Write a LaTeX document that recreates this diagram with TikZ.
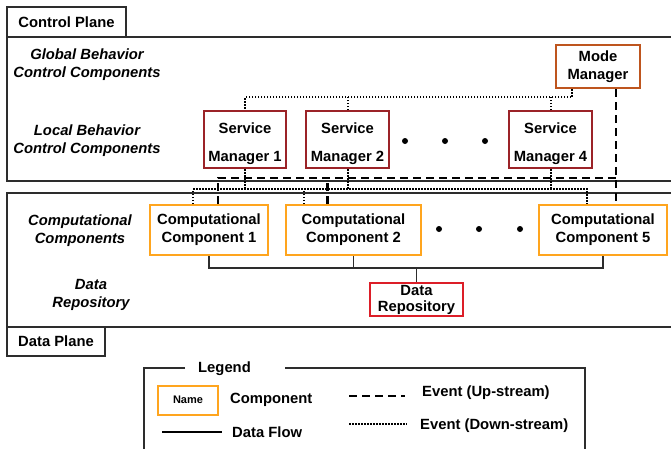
\documentclass[tikz,border=0pt]{standalone}
\usepackage{fontspec}
\setmainfont{Liberation Sans}
\definecolor{smred}{RGB}{155,35,40}
\definecolor{mmbrown}{RGB}{190,85,30}
\definecolor{ccorange}{RGB}{255,165,30}
\definecolor{drred}{RGB}{220,30,40}
\definecolor{panelgray}{RGB}{45,45,45}
\begin{document}
\begin{tikzpicture}[x=1pt,y=-1pt]
    % Define styles for boxes, labels and event lines
    \tikzstyle{comp}=[draw,line width=2pt,align=center,inner sep=0pt,font=\bfseries\fontsize{14.8}{18}\selectfont]
    \tikzstyle{svcmgr}=[comp,draw=smred,minimum width=82pt,minimum height=57pt,font=\bfseries\fontsize{14.8}{28}\selectfont]
    \tikzstyle{modemgr}=[comp,draw=mmbrown,minimum width=84pt,minimum height=43pt]
    \tikzstyle{compbox}=[comp,draw=ccorange,minimum height=50pt]
    \tikzstyle{repobox}=[comp,draw=drred,minimum width=93pt,minimum height=33pt,font=\bfseries\fontsize{14.8}{16}\selectfont]
    \tikzstyle{layer}=[align=center,font=\bfseries\itshape\fontsize{14.8}{18}\selectfont]
    \tikzstyle{tab}=[draw=panelgray,line width=1.4pt,inner sep=0pt,font=\bfseries\fontsize{14.8}{17}\selectfont]
    \tikzstyle{panel}=[draw=panelgray,line width=1.4pt]
    \tikzstyle{legtext}=[anchor=west,inner sep=0pt,font=\bfseries\fontsize{14.8}{17}\selectfont]
    \tikzstyle{upev}=[line width=2.2pt,dash pattern=on 8pt off 5pt]
    \tikzstyle{downev}=[line width=2pt,dash pattern=on 1.5pt off 1.5pt]
    \tikzstyle{flow}=[draw=panelgray,line width=1.2pt]

    \useasboundingbox (0,0) rectangle (671,448);
    \clip (0,0) rectangle (671,448);

    % Planes
    \draw[panel] (7,37) rectangle (690,181);
    \node[tab,minimum width=119pt,minimum height=30pt] (cptab) at (66.5,22) {Control Plane};
    \draw[panel] (7,193) rectangle (690,327);
    \node[tab,minimum width=98pt,minimum height=29pt] (dptab) at (56,341.5) {Data Plane};

    % Layer labels
    \node[layer] (glob) at (87,65) {Global Behavior\\Control Components};
    \node[layer] (loc) at (87,141) {Local Behavior\\Control Components};
    \node[layer] (compl) at (80,231) {Computational\\Components};
    \node[layer] (repol) at (91,295) {Data\\Repository};

    % Managers
    \node[modemgr] (mm) at (598,66.5) {Mode\\Manager};
    \node[svcmgr] (sm1) at (245,139.5) {\strut Service\\Manager 1};
    \node[svcmgr,minimum width=83pt] (sm2) at (347.5,139.5) {\strut Service\\Manager 2};
    \node[svcmgr,minimum width=83pt] (sm4) at (550.5,139.5) {\strut Service\\Manager 4};
    \foreach \x in {405,445,485}{
        \fill (\x,141) circle (3pt);
    }

    % Computational components and repository
    \node[compbox,minimum width=118pt] (cc1) at (209,230) {Computational\\Component 1};
    \node[compbox,minimum width=135pt] (cc2) at (353.5,230) {Computational\\Component 2};
    \node[compbox,minimum width=128pt] (cc5) at (603,230) {Computational\\Component 5};
    \foreach \x in {439,479,520}{
        \fill (\x,229) circle (3pt);
    }
    \node[repobox] (repo) at (416.5,299.5) {Data\\Repository};

    % Levels of the buses and end points on the boxes
    \coordinate (dnhi) at (0,97);
    \coordinate (dnlo) at (0,189);
    \coordinate (uplvl) at (0,178);
    \coordinate (flowlvl) at (0,268);
    \coordinate (mmdn) at ([xshift=-26pt]mm.south);
    \coordinate (mmup) at ([xshift=18pt]mm.south);
    \coordinate (cc1dn) at ([xshift=-16pt]cc1.north);
    \coordinate (cc1up) at ([xshift=9pt]cc1.north);
    \coordinate (cc2dn) at ([xshift=-50pt]cc2.north);
    \coordinate (cc2up) at ([xshift=-26pt]cc2.north);
    \coordinate (cc5dn) at ([xshift=-16pt]cc5.north);
    \coordinate (cc5up) at ([xshift=13pt]cc5.north);

    % Down-stream events
    \draw[downev] (mmdn) |- (sm1.north |- dnhi) -- (sm1.north);
    \foreach \n in {sm2,sm4}{
        \draw[downev] (\n.north) -- (\n.north |- dnhi);
    }
    \draw[downev] (cc1dn) |- (cc5dn |- dnlo) -- (cc5dn);
    \draw[downev] (cc2dn) -- (cc2dn |- dnlo);
    \foreach \n in {sm1,sm2,sm4}{
        \draw[downev] (\n.south) -- (\n.south |- dnlo);
    }

    % Up-stream events
    \draw[upev] (mmup) -- (cc5up);
    \draw[upev] (cc1up) |- (mmup |- uplvl);
    \draw[upev] (cc2up) -- (cc2up |- uplvl);

    % Data flow
    \draw[flow] (cc1.south) |- (cc5.south |- flowlvl) -- (cc5.south);
    \draw[flow] (cc2.south) -- (cc2.south |- flowlvl);
    \draw[flow] (repo.north) -- (repo.north |- flowlvl);

    % Legend
    \draw[panel] (185,368) -| (144,470);
    \draw[panel] (285,368) -| (585,470);
    \node[legtext] (legtitle) at (198,369) {Legend};
    \node[comp,draw=ccorange,minimum width=60pt,minimum height=29pt,font=\bfseries\fontsize{11}{13}\selectfont] (legname) at (188,400) {Name};
    \node[legtext] (legcomp) at (230,400) {Component};
    \draw[flow,draw=black] (162,432) -- (222,432);
    \node[legtext] (legflow) at (232,432) {Data Flow};
    \draw[upev] (349,396) -- (405,396);
    \node[legtext] (legup) at (422,393) {Event (Up-stream)};
    \draw[downev,line width=1.4pt] (349,424) -- (407,424);
    \node[legtext] (legdown) at (420,426) {Event (Down-stream)};
\end{tikzpicture}
\end{document}
